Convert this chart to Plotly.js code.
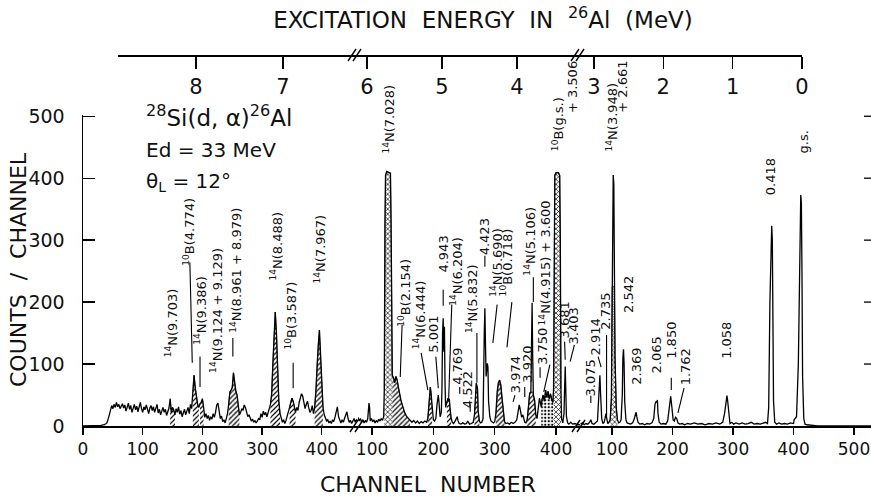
<!DOCTYPE html>
<html><head><meta charset="utf-8">
<script src="https://cdn.plot.ly/plotly-3.0.1.min.js"></script>
<style>html,body{margin:0;padding:0;background:#fff}#chart{width:871px;height:500px}</style>
</head><body><div id="chart"></div>
<script>
// ---------------- DATA ----------------
// spectrum segment 1 : [channel, counts]
const seg1Spectrum = [[0,0],[20,0],[30,1],[36,2],[40,5],[43,14],[46,25],[48,33],[50,28],[52,35],[54,30],[56,38],[58,31],[60,35],[62,28],[64,33],[66,36],[68,29],[70,34],[72,24],[74,31],[76,37],[78,27],[80,33],[82,22],[84,30],[86,35],[88,26],[90,32],[92,23],[94,30],[96,38],[98,28],[100,22],[102,31],[104,26],[106,34],[108,24],[110,20],[112,29],[114,33],[116,25],[118,31],[120,22],[122,28],[124,35],[126,21],[128,27],[130,18],[132,25],[134,30],[136,22],[138,27],[140,17],[142,24],[144,29],[146,44],[148,22],[150,30],[152,26],[154,18],[156,28],[158,22],[160,31],[162,19],[164,25],[166,15],[168,22],[170,27],[172,18],[174,24],[176,30],[178,20],[180,35],[182,28],[184,55],[186,82],[188,62],[190,45],[192,35],[194,30],[196,36],[198,38],[200,44],[202,30],[204,14],[206,20],[208,12],[210,17],[212,9],[214,15],[216,11],[218,20],[220,14],[222,22],[224,34],[226,37],[228,20],[230,12],[232,16],[234,7],[236,10],[238,5],[240,12],[242,20],[244,35],[246,55],[248,58],[250,62],[252,86],[254,70],[256,56],[258,50],[260,30],[262,18],[264,22],[266,28],[268,25],[270,34],[272,30],[274,22],[276,15],[278,18],[280,12],[282,8],[284,11],[286,6],[288,9],[290,5],[292,8],[294,12],[296,10],[298,20],[300,14],[302,24],[304,18],[306,22],[308,15],[310,20],[312,28],[314,35],[316,52],[318,100],[320,150],[322,184],[324,150],[326,90],[328,40],[330,20],[332,12],[334,6],[336,10],[338,4],[340,9],[342,15],[344,22],[346,30],[348,38],[350,45],[352,40],[354,28],[356,22],[358,30],[360,25],[362,38],[364,45],[366,52],[368,48],[370,36],[372,28],[374,35],[376,40],[378,30],[380,22],[382,25],[384,33],[386,20],[388,30],[390,55],[392,100],[394,130],[396,155],[398,110],[400,55],[402,30],[404,18],[406,12],[408,8],[410,10],[412,5],[414,8],[416,4],[418,10],[420,7],[422,14],[424,25],[426,31],[428,15],[430,8],[432,5],[434,10],[436,6],[438,12],[440,20],[442,23],[444,12],[446,6],[448,9],[450,4],[452,8],[454,12],[456,6],[458,10],[460,8]];
// spectrum segment 2 : [channel, counts]
const seg2Spectrum = [[77,14],[79,8],[81,12],[83,6],[85,10],[87,5],[89,9],[91,6],[93,12],[95,37],[96,30],[97,8],[99,12],[101,7],[103,10],[105,5],[107,9],[109,6],[111,11],[113,8],[115,12],[117,9],[119,15],[120,60],[121,330],[122,405],[124,411],[127,410],[130,408],[131,330],[132,150],[133,82],[135,78],[137,70],[139,80],[141,74],[143,62],[145,50],[147,42],[149,35],[151,28],[153,22],[156,16],[159,12],[162,9],[165,6],[168,9],[171,5],[174,8],[177,4],[180,7],[183,5],[186,8],[189,6],[191,12],[193,40],[195,63],[196,55],[198,25],[200,10],[202,8],[204,12],[206,35],[208,50],[209,40],[211,15],[213,22],[214,60],[215,150],[216,174],[217,120],[218,160],[219,70],[220,30],[222,38],[224,45],[225,40],[226,44],[227,30],[229,12],[231,6],[233,4],[235,7],[237,12],[239,15],[240,9],[242,4],[245,3],[248,5],[251,3],[254,4],[256,8],[257,6],[259,3],[262,4],[265,6],[267,18],[269,55],[270,69],[272,60],[273,25],[275,8],[277,5],[279,6],[281,12],[283,150],[284,190],[285,130],[286,80],[288,101],[289,95],[290,40],[292,15],[294,8],[296,6],[298,5],[300,7],[302,20],[304,55],[306,70],[308,74],[310,66],[312,45],[314,18],[316,7],[318,4],[321,5],[324,3],[327,6],[330,4],[333,6],[336,10],[338,20],[340,34],[341,30],[342,22],[344,14],[346,18],[347,12],[349,6],[351,5],[353,10],[355,30],[357,53],[359,55],[360,120],[361,199],[362,110],[363,50],[365,42],[367,18],[369,12],[371,30],[373,45],[374,40],[376,30],[377,42],[379,50],[381,40],[383,58],[385,46],[387,56],[389,44],[391,52],[393,42],[395,38],[396,60],[397,330],[398,405],[400,409],[404,409],[406,404],[407,300],[408,60],[409,12],[411,5],[413,20],[414,60],[415,96],[416,55],[417,15],[419,5],[421,3],[424,6],[427,3],[431,4],[435,2],[439,2]];
// spectrum segment 3 : [channel, counts]
const seg3Spectrum = [[48,3],[51,5],[54,2],[57,4],[60,3],[63,6],[65,10],[67,4],[70,3],[73,5],[76,8],[78,45],[80,82],[81,55],[83,12],[85,4],[87,6],[89,15],[90,20],[91,14],[93,4],[95,6],[97,10],[99,45],[100,230],[101,300],[102,405],[103,390],[104,230],[105,110],[107,30],[109,10],[111,5],[113,6],[115,10],[117,50],[118,110],[119,124],[120,100],[121,40],[123,10],[125,5],[128,4],[131,3],[134,5],[137,12],[139,20],[140,22],[141,15],[143,6],[146,3],[150,4],[154,2],[158,4],[162,3],[166,5],[169,12],[171,35],[173,40],[174,38],[175,42],[176,20],[178,6],[181,3],[185,4],[189,3],[192,8],[194,25],[196,45],[197,48],[199,30],[201,10],[203,8],[205,14],[207,12],[209,5],[212,3],[216,4],[220,2],[225,4],[230,3],[236,5],[242,3],[248,4],[254,2],[260,4],[266,3],[272,5],[278,3],[283,6],[286,20],[288,40],[290,49],[291,42],[293,15],[295,4],[298,6],[301,3],[305,5],[310,3],[315,5],[320,3],[325,4],[330,6],[335,3],[340,4],[345,3],[350,5],[354,6],[357,4],[359,30],[361,200],[363,315],[364,323],[365,300],[366,180],[367,40],[369,6],[372,3],[376,5],[380,3],[385,4],[390,3],[395,5],[400,4],[401,10],[403,12],[405,15],[408,100],[411,300],[412,373],[413,360],[414,250],[415,80],[417,12],[419,3],[422,2],[428,1],[440,0],[480,0],[528,0]];

// hatched (contaminant) peaks: [fromChannel, toChannel, capCounts?]
const seg1Hatch = [[146,154],[183,194],[195,203],[243,262],[314,330],[345,356],[388,402]];
const seg2Hatch = [[120,133],[133,162],[191,199],[221,229],[266,275],[302,316],[353,367,55],[376,396],[396,408]];
const seg3Hatch = [[97,109,225]];

// tick labels
const channelTicks = [0,100,200,300,400,500];
const energyTicks = [8,7,6,5,4,3,2,1,0];
const countTicks = [0,100,200,300,400,500];

// peak labels
const labelText = [
 '<sup>14</sup>N(9.703)','<sup>10</sup>B(4.774)','<sup>14</sup>N(9.386)','<sup>14</sup>N(9.124 + 9.129)','<sup>14</sup>N(8.961 + 8.979)','<sup>14</sup>N(8.488)','<sup>10</sup>B(3.587)','<sup>14</sup>N(7.967)',
 '<sup>14</sup>N(7.028)','<sup>10</sup>B(2.154)','<sup>14</sup>N(6.444)','5.001','4.943','<sup>14</sup>N(6.204)','4.769','4.522','<sup>14</sup>N(5.832)','4.423','<sup>14</sup>N(5.690)','<sup>10</sup>B(0.718)','3.974','3.920','<sup>14</sup>N(5.106)','3.750','<sup>14</sup>N(4.915) + 3.600','<sup>10</sup>B(g.s.)','+ 3.506','3.681','3.403',
 '3.075','2.914','2.735','<sup>14</sup>N(3.948)','+ 2.661','2.542','2.369','2.065','1.850','1.762','1.058','0.418','g.s.'
];

// ---------------- LAYOUT / STYLE ----------------
const L = 83, R = 871, T = 55, B = 426;
const W = R - L, H = B - T;
const fx = px => (px - L) / W;
const fy = py => (B - py) / H;
const yMax = 502, yTop = fy(115);

const segDomain = [[0, fx(358)], [fx(358), fx(580)], [fx(580), 1]];
const segRange = [[0, 460.6], [77.1, 439.1], [47.1, 528.1]];
const topDomain = [[fx(118), fx(356)], [fx(356), fx(579)], [fx(579), fx(802)]];
const topRange = [[8.897, 6.161], [6.147, 3.173], [3.216, -0.0005]];
const axId = ['x', 'x2', 'x3'];

const hatchShapes = [
  ['/','/','/','/','/','/','/'],
  ['x','/','/','/','/','/','/','.','x'],
  ['x']
];

// label anchors [segment, channel, counts]
const labelPos = [
 [1,147,167],[1,178,314],[1,196,186],[1,223,186],[1,255,251],[1,323,291],[1,348,178],[1,397,285],
 [2,128,495],[2,152,215],[2,178,180],[2,201,149],[2,216,277],[2,237,249],[2,240,97],[2,255,58],[2,263,205],[2,284,306],[2,302,265],[2,320,264],[2,334,83],[2,352,100],[2,358,298],[2,379,128],[2,382,264],[2,403,487],[2,426,547],[2,413,172],[2,429,162],
 [3,65,78],[3,73,144],[3,90,186],[3,100,498],[3,116,547],[3,127,212],[3,141,97],[3,174,115],[3,199,139],[3,221,95],[3,290,139],[3,361,403],[3,416,458]
];
// leader lines [segment, ch1, c1, ch2, c2]
const leaders = [
 [1,179,264,183,102],[1,196,112,196,63],[1,251,142,251,112],[1,352,102,352,61],
 [2,149,163,146,79],[2,180,118,191,58],[2,204,112,208,61],[2,216,220,216,194],[2,230,196,225,45],[2,243,63,243,52],[2,260,36,260,23],[2,271,150,271,70],[2,284,275,284,257],[2,304,196,297,134],[2,328,200,320,127],[2,333,50,330,39],[2,349,63,349,47],[2,363,240,363,200],[2,374,95,374,78],[2,390,99,380,55],[2,414,136,415,107],[2,430,131,423,104],
 [3,65,49,65,37],[3,77,112,82,95],[3,91,147,91,16],[3,198,78,198,58],[3,219,61,209,21]
];

const FONT = 'DejaVu Sans, Liberation Sans, sans-serif';
const INK = '#111';
const traces = [];
[seg1Spectrum, seg2Spectrum, seg3Spectrum].forEach((spec, s) => {
  const hatch = [seg1Hatch, seg2Hatch, seg3Hatch][s];
  hatch.forEach((h, k) => {
    const pts = spec.filter(p => p[0] >= h[0] && p[0] <= h[1]);
    const cap = h.length > 2 ? h[2] : Infinity;
    traces.push({
      type: 'scatter', mode: 'lines', xaxis: axId[s], yaxis: 'y',
      x: pts.map(p => p[0]), y: pts.map(p => Math.min(p[1], cap)),
      fill: 'tozeroy', fillcolor: '#ffffff', line: {width: 0.6, color: '#000'},
      fillpattern: {shape: hatchShapes[s][k], size: 3.5, solidity: 0.35, fgcolor: '#000', bgcolor: '#fff', fillmode: 'replace'},
      hoverinfo: 'skip', showlegend: false
    });
  });
  traces.push({
    type: 'scatter', mode: 'lines', xaxis: axId[s], yaxis: 'y',
    x: spec.map(p => p[0]), y: spec.map(p => p[1]),
    line: {color: '#000', width: 1.3}, hoverinfo: 'skip', showlegend: false
  });
});
['x4','x5','x6'].forEach(a => traces.push({type:'scatter', mode:'lines', x:[], y:[], xaxis:a, yaxis:'y', showlegend:false, hoverinfo:'skip'}));

const baseX = {
  showline: true, linecolor: '#000', linewidth: 1.5, ticks: 'outside', ticklen: 7, tickwidth: 1.3,
  tickcolor: '#000', showgrid: false, zeroline: false, tickmode: 'array', tickvals: channelTicks,
  tickfont: {size: 17, family: FONT, color: INK}, fixedrange: true
};
const layout = {
  width: 871, height: 500, margin: {l: L, r: 871 - R, t: T, b: 500 - B},
  paper_bgcolor: '#fff', plot_bgcolor: 'rgba(0,0,0,0)', showlegend: false,
  font: {family: FONT, color: INK},
  title: {text: 'EXCITATION&nbsp; ENERGY&nbsp; IN&nbsp; <sup>26</sup>Al&nbsp; (MeV)', x: 483/871, xref: 'container', xanchor: 'center',
          y: 1 - 20/500, yref: 'container', yanchor: 'middle', font: {size: 23, family: FONT, color: INK}},
  yaxis: {domain: [0, yTop], range: [0, yMax], anchor: 'x', showline: true, linecolor: '#000', linewidth: 1.5,
          ticks: 'inside', ticklen: 12, tickwidth: 1.3, tickcolor: '#000', tickmode: 'array', tickvals: countTicks,
          showgrid: false, zeroline: false, tickfont: {size: 19, family: FONT, color: INK}, ticklabelstandoff: 13, fixedrange: true},
  annotations: [], shapes: []
};
for (let s = 0; s < 3; s++) {
  layout[s === 0 ? 'xaxis' : 'xaxis' + (s + 1)] = Object.assign({}, baseX, {domain: segDomain[s], range: segRange[s], anchor: 'y'});
  layout['xaxis' + (s + 4)] = {
    domain: topDomain[s], range: topRange[s], anchor: 'free', position: 1, side: 'bottom',
    showline: true, linecolor: '#000', linewidth: 1.5, ticks: 'outside', ticklen: 12, tickwidth: 1.3, tickcolor: '#000',
    tickmode: 'array', tickvals: energyTicks, showgrid: false, zeroline: false,
    tickfont: {size: 21, family: FONT, color: INK}, fixedrange: true
  };
}

// right-edge tick marks on the count scale
countTicks.slice(1).forEach(v => {
  layout.shapes.push({type: 'line', xref: 'paper', yref: 'y', xsizemode: 'pixel', xanchor: 1, x0: -7, x1: 0, y0: v, y1: v,
    line: {color: '#000', width: 1.3}});
});
// axis break marks
[[fx(358), 0], [fx(580), 0], [fx(356), 1], [fx(579), 1]].forEach(([bx, by]) => {
  [[-6, -2], [-1, 3]].forEach(([a, b]) => {
    layout.shapes.push({type: 'line', xref: 'paper', yref: 'paper', xsizemode: 'pixel', ysizemode: 'pixel',
      xanchor: bx, yanchor: by, x0: a - 2, y0: -6, x1: b + 2, y1: 6, line: {color: '#000', width: 1.4}});
  });
});
// leaders
leaders.forEach(([s, x0, y0, x1, y1]) => {
  layout.shapes.push({type: 'line', xref: axId[s - 1], yref: 'y', x0, y0, x1, y1, line: {color: '#000', width: 1.1}});
});
// peak labels
labelText.forEach((t, i) => {
  const [s, ch, c] = labelPos[i];
  const over = c > yMax;
  layout.annotations.push({text: t, xref: axId[s - 1], x: ch, yref: over ? 'paper' : 'y', y: over ? c / yMax * yTop : c,
    textangle: -90, showarrow: false, xanchor: 'center', yanchor: 'middle',
    font: {size: 13, family: FONT, color: INK}});
});
// reaction text
[['<sup>28</sup>Si(d, \u03b1)<sup>26</sup>Al', 116, 23], ['Ed = 33 MeV', 150, 20], ['\u03b8<sub>L</sub> = 12\u00b0', 182, 20]].forEach(([t, py, sz]) => {
  layout.annotations.push({text: t, xref: 'paper', yref: 'paper', x: fx(144), y: fy(py), xanchor: 'left', yanchor: 'middle',
    showarrow: false, font: {size: sz, family: FONT, color: INK}});
});
// axis titles
layout.annotations.push({text: 'CHANNEL&nbsp; NUMBER', xref: 'paper', yref: 'paper', x: fx(428), y: fy(484), xanchor: 'center', yanchor: 'middle',
  showarrow: false, font: {size: 22, family: FONT, color: INK}});
layout.annotations.push({text: 'COUNTS&nbsp; /&nbsp; CHANNEL', xref: 'paper', yref: 'paper', x: fx(18), y: fy(270), xanchor: 'center', yanchor: 'middle',
  textangle: -90, showarrow: false, font: {size: 22, family: FONT, color: INK}});

Plotly.newPlot('chart', traces, layout, {staticPlot: true, displayModeBar: false});
</script>
</body></html>
